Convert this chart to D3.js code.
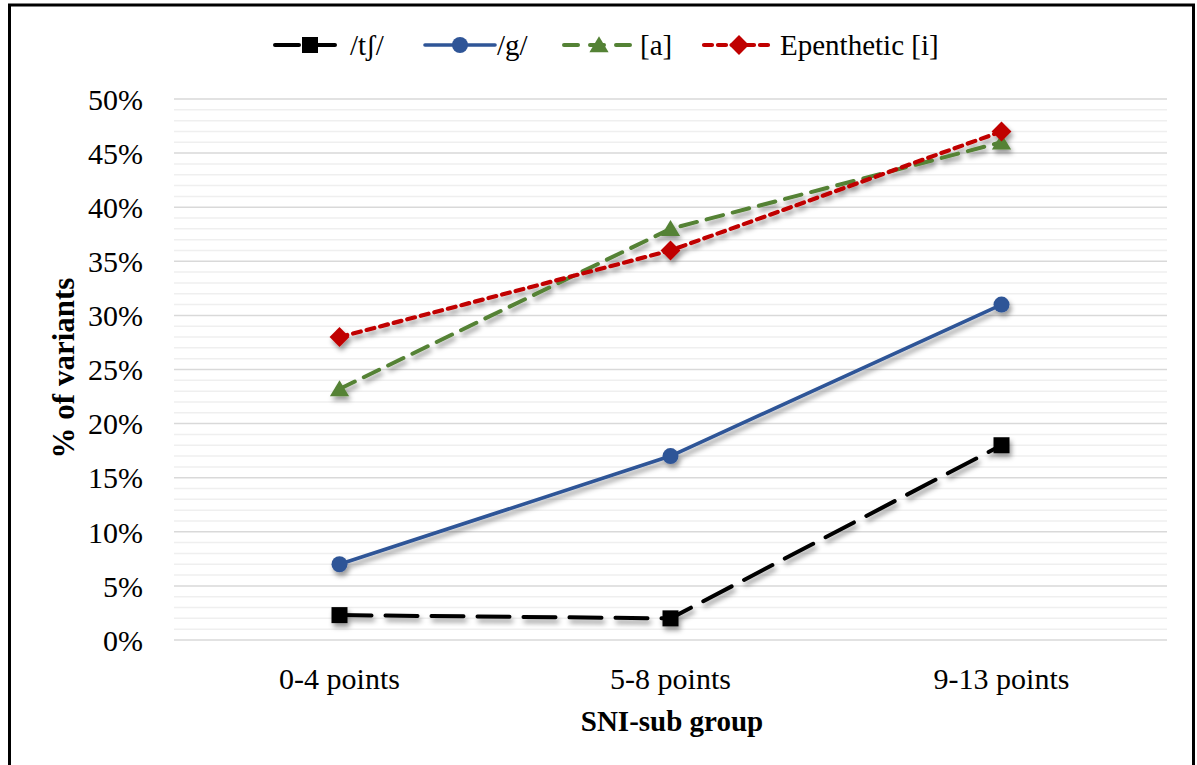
<!DOCTYPE html>
<html><head><meta charset="utf-8">
<script src="https://cdn.jsdelivr.net/npm/d3@7"></script>
<style>body{margin:0;background:#fff}svg{display:block}svg text{font-family:"Liberation Serif","Times New Roman",serif !important}</style>
</head><body>
<svg id="c" width="1197" height="765"></svg>
<script>
const categories = ["0-4 points", "5-8 points", "9-13 points"];
const seriesNames = ["/tʃ/", "/g/", "[a]", "Epenthetic [i]"];
const valuesTS = [2.3, 2.0, 18];
const valuesG = [7, 17, 31];
const valuesA = [23.2, 38, 46];
const valuesI = [28, 36, 47];
const yTicks = [0, 5, 10, 15, 20, 25, 30, 35, 40, 45, 50];

const series = [
  {name: seriesNames[0], values: valuesTS, color: "#000000", dash: "32,14", width: 4, marker: "square"},
  {name: seriesNames[1], values: valuesG, color: "#2f5597", dash: null, width: 3.6, marker: "circle"},
  {name: seriesNames[2], values: valuesA, color: "#548235", dash: "17,10", width: 4, marker: "triangle"},
  {name: seriesNames[3], values: valuesI, color: "#c00000", dash: "8,6", width: 4.2, marker: "diamond"}
];

const svg = d3.select("#c");
const defs = svg.append("defs");
defs.append("filter").attr("id","sh").attr("x","-20%").attr("y","-20%").attr("width","140%").attr("height","160%")
  .append("feDropShadow").attr("dx",2).attr("dy",4).attr("stdDeviation",2.5)
  .attr("flood-color","#000").attr("flood-opacity",0.4);

// border
svg.append("rect").attr("x",9.5).attr("y",5).attr("width",1184).attr("height",780)
  .attr("fill","none").attr("stroke","#000").attr("stroke-width",3);

const pLeft = 174, pRight = 1167, pTop = 99, pBottom = 640;
const x = d3.scaleBand().domain(categories).range([pLeft, pRight]);
const y = d3.scaleLinear().domain([0, 50]).range([pBottom, pTop]);

// minor gridlines
const minor = d3.range(0, 51, 1).filter(v => v % 5 !== 0);
svg.append("g").selectAll("line").data(minor).join("line")
  .attr("x1", pLeft).attr("x2", pRight).attr("y1", d => y(d)).attr("y2", d => y(d))
  .attr("stroke", "#efefef").attr("stroke-width", 1.5);
// major gridlines
svg.append("g").selectAll("line").data(yTicks).join("line")
  .attr("x1", pLeft).attr("x2", pRight).attr("y1", d => y(d)).attr("y2", d => y(d))
  .attr("stroke", "#d9d9d9").attr("stroke-width", 1.5);

// y axis labels
const yAxis = d3.axisLeft(y).tickValues(yTicks).tickFormat(d => d + "%").tickSize(0).tickPadding(0);
const ya = svg.append("g").attr("transform", `translate(143,0)`).call(yAxis).attr("font-family", null);
ya.select(".domain").remove();
ya.selectAll("text").attr("font-size", 30).attr("fill", "#000").attr("dy","0.34em");

// x axis labels
const xAxis = d3.axisBottom(x).tickSize(0).tickPadding(0);
const xa = svg.append("g").attr("transform", `translate(0,668)`).call(xAxis).attr("font-family", null);
xa.select(".domain").remove();
xa.selectAll("text").attr("font-size", 30).attr("fill", "#000").attr("dy","0.7em");

// titles
svg.append("text").attr("x", 672).attr("y", 731).attr("text-anchor", "middle")
  .attr("font-weight", "bold").attr("font-size", 29).text("SNI-sub group");
svg.append("text").attr("transform", "translate(74,368) rotate(-90)").attr("text-anchor", "middle")
  .attr("font-weight", "bold").attr("font-size", 31).text("% of variants");

function markerPath(type, s) {
  if (type === "square") return `M${-s/2},${-s/2}h${s}v${s}h${-s}Z`;
  if (type === "circle") return d3.symbol(d3.symbolCircle, Math.PI*(s/2)*(s/2))();
  if (type === "triangle") return `M0,${-s*0.55}L${s*0.6},${s*0.45}L${-s*0.6},${s*0.45}Z`;
  if (type === "diamond") return `M0,${-s*0.62}L${s*0.62},0L0,${s*0.62}L${-s*0.62},0Z`;
}

const line = d3.line().x((d, i) => x(categories[i]) + x.bandwidth()/2).y(d => y(d));
const plot = svg.append("g").attr("filter", "url(#sh)");
series.forEach(s => {
  const g = plot.append("g");
  g.append("path").attr("d", line(s.values)).attr("fill", "none")
    .attr("stroke", s.color).attr("stroke-width", s.width)
    .attr("stroke-dasharray", s.dash).attr("stroke-linecap", "round").attr("stroke-linejoin","round");
  g.selectAll("path.m").data(s.values).join("path").attr("class", "m")
    .attr("transform", (d, i) => `translate(${x(categories[i]) + x.bandwidth()/2},${y(d)})`)
    .attr("d", markerPath(s.marker, 16)).attr("fill", s.color);
});

// legend
const legendPos = [{lx: 275, tx: 350}, {lx: 425, tx: 497}, {lx: 564, tx: 640}, {lx: 704, tx: 780}];
const ly = 45;
series.forEach((s, i) => {
  const p = legendPos[i];
  const g = svg.append("g");
  g.append("line").attr("x1", p.lx).attr("x2", p.lx + 70).attr("y1", ly).attr("y2", ly)
    .attr("stroke", s.color).attr("stroke-width", s.width).attr("stroke-linecap", "round")
    .attr("stroke-dasharray", i === 0 ? "24,10,26,10" : (i === 2 ? "14,12" : (i === 3 ? "8,6" : null)));
  g.append("path").attr("transform", `translate(${p.lx + 35},${ly})`)
    .attr("d", markerPath(s.marker, 16)).attr("fill", s.color);
  g.append("text").attr("x", p.tx).attr("y", ly).attr("dy", "0.34em")
    .attr("font-size", 29).text(s.name);
});
</script>
</body></html>
